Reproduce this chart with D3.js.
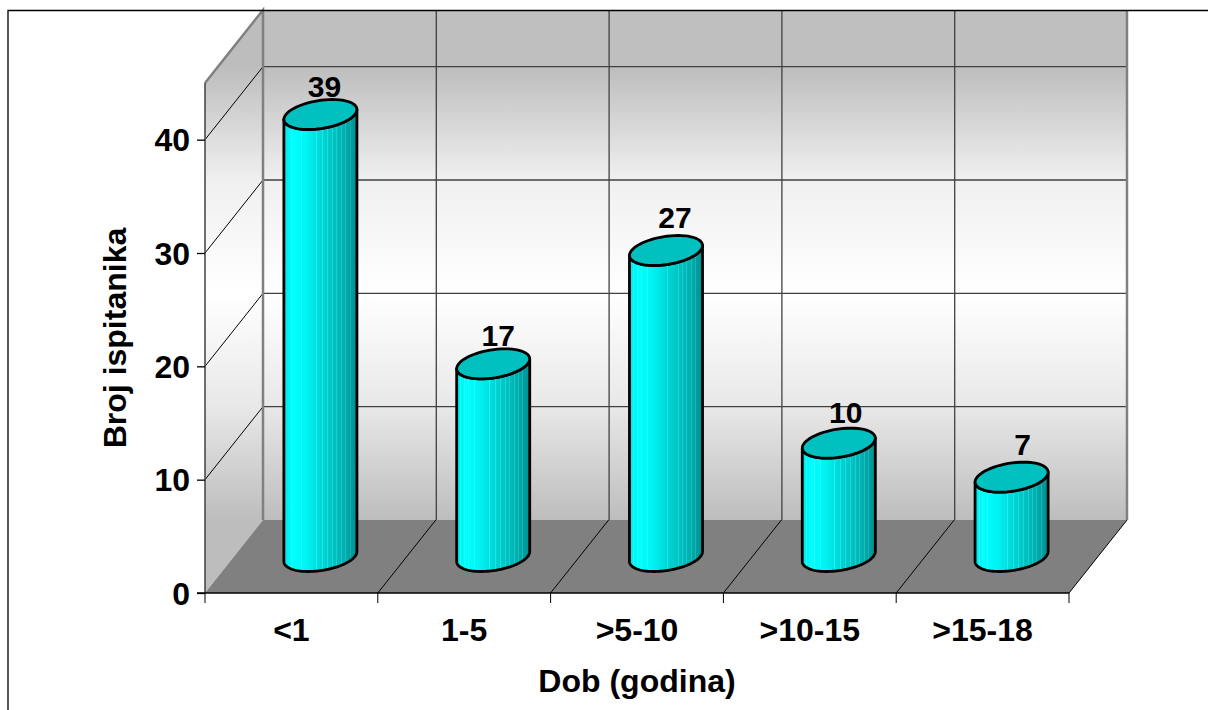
<!DOCTYPE html>
<html>
<head>
<meta charset="utf-8">
<script src="https://cdn.jsdelivr.net/npm/d3@7"></script>
<style>
  html, body { margin: 0; padding: 0; background: #fff; overflow: hidden; }
  text { font-family: "Liberation Sans", Arial, sans-serif; font-weight: bold; fill: #000; }
</style>
</head>
<body>
<script>
//Data
var categories = ["<1", "1-5", ">5-10", ">10-15", ">15-18"];
var values = [39, 17, 27, 10, 7];
var yTicks = [0, 10, 20, 30, 40];
var yTitle = "Broj ispitanika";
var xTitle = "Dob (godina)";

//Labels were nudged by hand in the original
var labelDx = [4, 5, 9, 7, 11];
var labelDy = [18, 18, 23, 20, 22];

//Layout
var width = 1208, height = 710;
var left = 205, right = 1069, bottom = 593, top_ = 83;
var depthX = 58, depthY = -73;

var x = d3.scaleBand().domain(categories).range([left, right]);
var y = d3.scaleLinear().domain([0, 45]).range([bottom, top_]);

var svg = d3.select("body").append("svg")
    .attr("width", width)
    .attr("height", height)
    .style("display", "block");

var defs = svg.append("defs");

//Wall gradient, white in the middle
var wall = defs.append("linearGradient")
    .attr("id", "wall")
    .attr("gradientUnits", "userSpaceOnUse")
    .attr("x1", 0).attr("x2", 0)
    .attr("y1", 67).attr("y2", 520);
wall.append("stop").attr("offset", 0).attr("stop-color", "#bdbdbd");
wall.append("stop").attr("offset", 0.25).attr("stop-color", "#f0f0f0");
wall.append("stop").attr("offset", 0.5).attr("stop-color", "#ffffff");
wall.append("stop").attr("offset", 0.75).attr("stop-color", "#e8e8e8");
wall.append("stop").attr("offset", 1).attr("stop-color", "#bdbdbd");

//Bar body gradient with the thin light bands
var bodyStops = [[0, "#00e6e6"], [0.12, "#00ffff"], [0.3, "#00f4f4"], [0.55, "#00d2d2"], [0.8, "#00b4b4"], [1, "#009090"]];
var bands = [0.05, 0.1, 0.16, 0.24, 0.44, 0.52, 0.59, 0.66, 0.72, 0.78, 0.84, 0.9];

function colorAt(t)
{
    for (var i = 1; i < bodyStops.length; i++)
    {
        if (t <= bodyStops[i][0])
        {
            var f = (t - bodyStops[i-1][0]) / (bodyStops[i][0] - bodyStops[i-1][0]);
            return d3.interpolateRgb(bodyStops[i-1][1], bodyStops[i][1])(f);
        }
    }
    return bodyStops[bodyStops.length-1][1];
}

function lighter(t)
{
    var c = d3.rgb(colorAt(t));
    c.r = 30;
    c.g = Math.min(255, c.g + 16);
    c.b = Math.min(255, c.b + 16);
    return c.formatRgb();
}

var body = defs.append("linearGradient").attr("id", "body");
var allStops = [];
bodyStops.forEach(function(s) { allStops.push([s[0], colorAt(s[0])]); });
bands.forEach(function(b)
{
    var w = 0.012;
    allStops.push([b - 0.0001, colorAt(b)]);
    allStops.push([b, lighter(b)]);
    allStops.push([b + w, lighter(b)]);
    allStops.push([b + w + 0.0001, colorAt(b + w)]);
});
allStops.sort(function(a, b) { return a[0] - b[0]; });
allStops.forEach(function(s)
{
    body.append("stop").attr("offset", s[0]).attr("stop-color", s[1]);
});

function poly(points) { return "M" + points.map(function(p) { return p.join(","); }).join("L") + "Z"; }

//Back wall
var backTop = y(45) + depthY;
var backBottom = bottom + depthY;
svg.append("rect")
    .attr("x", left + depthX).attr("y", backTop)
    .attr("width", right - left).attr("height", backBottom - backTop)
    .attr("fill", "url(#wall)");
svg.append("rect")
    .attr("x", left + depthX).attr("y", backTop)
    .attr("width", right - left).attr("height", y(40) + depthY - backTop)
    .attr("fill", "#bfbfbf");

//Side wall
svg.append("path")
    .attr("d", poly([[left, y(45)], [left + depthX, backTop], [left + depthX, backBottom], [left, bottom]]))
    .attr("fill", "url(#wall)");

//Floor
svg.append("path")
    .attr("d", poly([[left, bottom], [left + depthX, backBottom], [right + depthX, backBottom], [right, bottom]]))
    .attr("fill", "#808080");

//Grid on the walls
yTicks.slice(1).forEach(function(t)
{
    svg.append("line")
        .attr("x1", left + depthX).attr("x2", right + depthX)
        .attr("y1", y(t) + depthY).attr("y2", y(t) + depthY)
        .attr("stroke", "#404040").attr("stroke-width", 1.3);
    svg.append("line")
        .attr("x1", left).attr("x2", left + depthX)
        .attr("y1", y(t)).attr("y2", y(t) + depthY)
        .attr("stroke", "#000").attr("stroke-width", 1);
});

var boundaries = categories.map(function(c) { return x(c); }).concat([right]);

boundaries.slice(1, -1).forEach(function(b)
{
    svg.append("line")
        .attr("x1", b + depthX + 0.5).attr("x2", b + depthX + 0.5)
        .attr("y1", backTop).attr("y2", backBottom)
        .attr("stroke", "#404040").attr("stroke-width", 1.3);
});
boundaries.slice(1).forEach(function(b)
{
    svg.append("line")
        .attr("x1", b).attr("x2", b + depthX)
        .attr("y1", bottom).attr("y2", backBottom)
        .attr("stroke", "#000").attr("stroke-width", 1);
});

//Wall edges
svg.append("path")
    .attr("d", "M" + left + "," + y(45) + "L" + (left + depthX) + "," + backTop + "L" + (left + depthX) + "," + backBottom)
    .attr("fill", "none").attr("stroke", "#808080").attr("stroke-width", 2.5);
svg.append("line")
    .attr("x1", right + depthX).attr("x2", right + depthX)
    .attr("y1", backTop).attr("y2", backBottom)
    .attr("stroke", "#808080").attr("stroke-width", 2.5);
svg.append("line")
    .attr("x1", left).attr("x2", left)
    .attr("y1", y(45)).attr("y2", bottom)
    .attr("stroke", "#404040").attr("stroke-width", 1.5);

//Outer frame of the picture
svg.append("path")
    .attr("d", "M8," + height + "L8,10.5L" + width + ",10.5")
    .attr("fill", "none").attr("stroke", "#000").attr("stroke-width", 1.3);

//Cylinders
var halfW = 34.5, skewX = 12, skewY = 15;

function rim(cx, cy, a0, a1)
{
    var pts = [];
    for (var i = 0; i <= 60; i++)
    {
        var a = a0 + (a1 - a0) * i / 60;
        pts.push([cx + halfW * Math.cos(a) + skewX * Math.sin(a), cy + skewY * Math.sin(a) * -1]);
    }
    return pts;
}

var tangent = Math.atan2(skewX, halfW);
var line = d3.line();

categories.forEach(function(c, i)
{
    var cx = x(c) + x.bandwidth() / 2 + depthX / 2;
    var cyTop = y(values[i]) + depthY / 2;
    var cyBase = y(0) + depthY / 2;

    //front half of each rim, from the right tangent round to the left one
    var topFront = rim(cx, cyTop, tangent, tangent - Math.PI);
    var baseFront = rim(cx, cyBase, tangent - Math.PI, tangent);

    svg.append("path")
        .attr("d", line(topFront.concat(baseFront)) + "Z")
        .attr("fill", "url(#body)")
        .attr("stroke", "#000").attr("stroke-width", 2.8).attr("stroke-linejoin", "round");

    svg.append("path")
        .attr("d", line(rim(cx, cyTop, 0, 2 * Math.PI)) + "Z")
        .attr("fill", "#00c0c0")
        .attr("stroke", "#000").attr("stroke-width", 2.8);

    svg.append("text")
        .attr("x", cx + labelDx[i])
        .attr("y", cyTop - labelDy[i])
        .attr("text-anchor", "middle")
        .attr("font-size", 30)
        .text(values[i]);
});

//Axes
var yAxis = d3.axisLeft(y).tickValues(yTicks).tickSize(8).tickPadding(7);
var gy = svg.append("g").attr("transform", "translate(" + left + ",0)").call(yAxis);
gy.select(".domain").remove();
gy.selectAll("line").attr("stroke", "#000").attr("stroke-width", 1.3);
gy.selectAll("text").attr("font-size", 32).attr("font-family", null).attr("dy", "0.35em").style("fill", "#000");

var xAxis = d3.axisBottom(x).tickSize(0).tickPadding(25);
var gx = svg.append("g").attr("transform", "translate(0," + bottom + ")").call(xAxis);
gx.select(".domain").remove();
gx.selectAll("text").attr("font-size", 32).attr("font-family", null).style("fill", "#000");

svg.append("line")
    .attr("x1", left - 8).attr("x2", right)
    .attr("y1", bottom).attr("y2", bottom)
    .attr("stroke", "#000").attr("stroke-width", 1.5);
boundaries.forEach(function(b)
{
    svg.append("line")
        .attr("x1", b).attr("x2", b)
        .attr("y1", bottom).attr("y2", bottom + 10)
        .attr("stroke", "#000").attr("stroke-width", 1);
});

svg.append("text")
    .attr("x", 637).attr("y", 692)
    .attr("text-anchor", "middle")
    .attr("font-size", 32)
    .text(xTitle);

svg.append("text")
    .attr("transform", "translate(126,338) rotate(-90)")
    .attr("text-anchor", "middle")
    .attr("font-size", 32)
    .text(yTitle);
</script>
</body>
</html>
